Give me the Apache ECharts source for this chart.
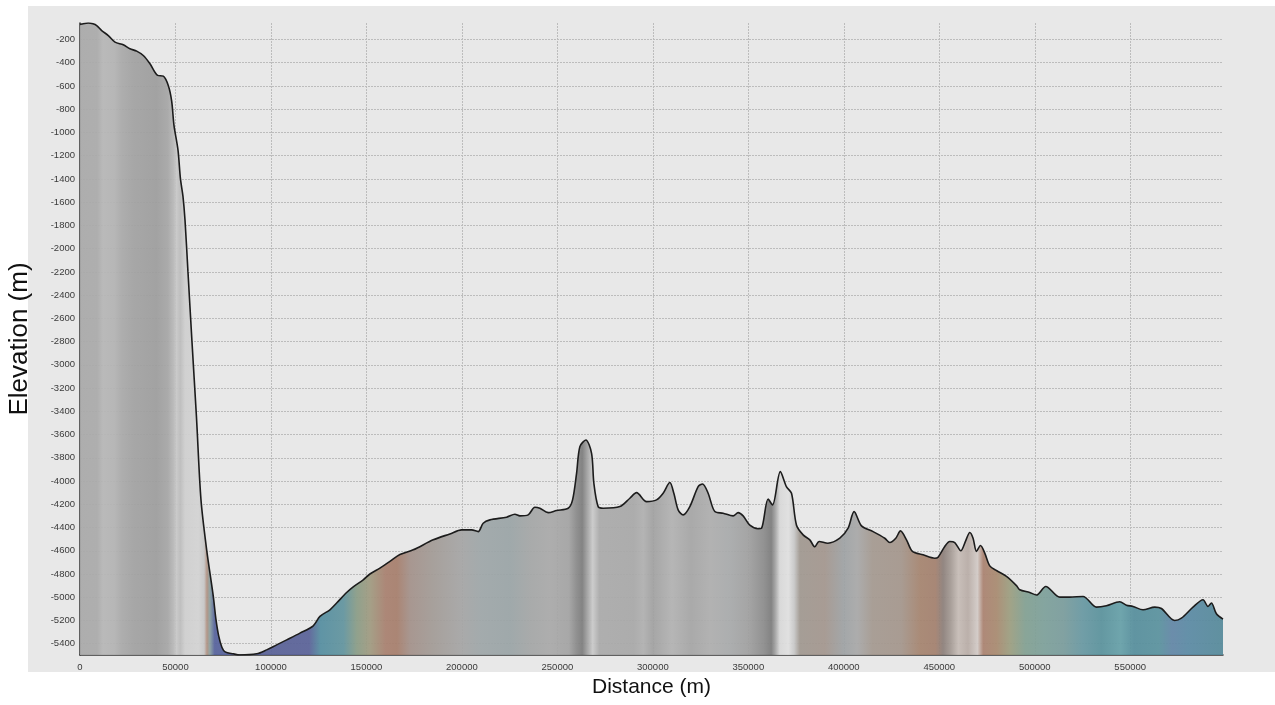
<!DOCTYPE html>
<html>
<head>
<meta charset="utf-8">
<script src="https://cdn.jsdelivr.net/npm/echarts@6/dist/echarts.min.js"></script>
<style>
html,body{margin:0;padding:0;background:#fff;}
#chart{width:1275px;height:705px;}
</style>
</head>
<body>
<div id="chart"></div>
<script>
// Distance along profile (m)
const distance = [0, 890, 4345, 6800, 8743, 11361, 14817, 18325, 22670, 26178, 29686, 33141, 36649, 40680, 43612, 46230, 48010, 49215, 51310, 52617, 53926, 54974, 56544, 58639, 60995, 63351, 66335, 69790, 71200, 72600, 74300, 76000, 80262, 83770, 92512, 97748, 102980, 108220, 115183, 122147, 125654, 130890, 134398, 139633, 143088, 148324, 151832, 157068, 162304, 167539, 174503, 184970, 193717, 199843, 205078, 208534, 211152, 214660, 223403, 227749, 230366, 234712, 238220, 240838, 245183, 249581, 255654, 257958, 260052, 261780, 264921, 267906, 269110, 271361, 273979, 282722, 287958, 291466, 296701, 301937, 305392, 308900, 310994, 313246, 315864, 319372, 323717, 326021, 328953, 332461, 336806, 342042, 344660, 347278, 350785, 355131, 356911, 360367, 362670, 366754, 369999, 372617, 375235, 378690, 382198, 384816, 387067, 391622, 397906, 402251, 405393, 409267, 415340, 421466, 424084, 427225, 429686, 432827, 435969, 441518, 447644, 449372, 452879, 455497, 458115, 461256, 463874, 465968, 467696, 469476, 471570, 473822, 476440, 479947, 485183, 490419, 492146, 497382, 500890, 505759, 513089, 518324, 525288, 532304, 537540, 544502, 548011, 551466, 556702, 562827, 566335, 573298, 576806, 582879, 588115, 590733, 592513, 595131, 598586];
// Elevation (m)
const elevation = [-70, -66, -58, -65, -80, -123, -166, -223, -246, -280, -300, -338, -409, -509, -515, -595, -730, -939, -1150, -1400, -1550, -1750, -2200, -2800, -3450, -4160, -4592, -4990, -5190, -5330, -5430, -5470, -5487, -5497, -5487, -5453, -5410, -5367, -5309, -5246, -5165, -5108, -5050, -4959, -4910, -4850, -4800, -4749, -4692, -4632, -4592, -4506, -4455, -4420, -4420, -4435, -4363, -4334, -4311, -4286, -4300, -4291, -4225, -4234, -4272, -4254, -4234, -4162, -3933, -3704, -3647, -3761, -4019, -4220, -4234, -4220, -4148, -4100, -4177, -4162, -4105, -4013, -4105, -4248, -4291, -4220, -4048, -4025, -4105, -4263, -4277, -4300, -4272, -4300, -4380, -4410, -4406, -4155, -4205, -3919, -4050, -4105, -4380, -4463, -4506, -4566, -4520, -4535, -4492, -4406, -4263, -4386, -4435, -4492, -4529, -4492, -4429, -4506, -4606, -4635, -4664, -4655, -4563, -4520, -4529, -4600, -4512, -4443, -4492, -4606, -4555, -4620, -4730, -4770, -4821, -4900, -4936, -4959, -4981, -4907, -4999, -4999, -4993, -5085, -5073, -5039, -5068, -5079, -5108, -5085, -5097, -5200, -5180, -5085, -5022, -5079, -5050, -5142, -5188];

// Fill colour bands along the distance axis (style)
const fillStops = [
  [0, '#a9a9a9'], [9000, '#aaaaaa'], [12000, '#b6b6b6'], [18000, '#b3b3b3'], [22000, '#a9a9a9'],
  [28000, '#a2a2a2'], [40000, '#9d9d9d'], [46000, '#a6a6a6'], [49000, '#b8b8b8'], [50500, '#c8c8c8'],
  [52500, '#bcbcbc'], [55000, '#cfcfcf'], [62000, '#d3d3d3'], [65000, '#c6c6c6'], [66500, '#b09080'],
  [68000, '#8aa0a0'], [70500, '#56629c'], [95000, '#596196'], [120000, '#5a6298'], [126000, '#558ea0'],
  [138000, '#62949e'], [145000, '#8a9c86'], [152000, '#a09a80'], [160000, '#a8806f'], [166000, '#a67e6c'],
  [173000, '#a3918a'], [185000, '#a29b96'], [200000, '#a5a5a5'], [210000, '#9ea6a8'], [225000, '#9aa4a6'],
  [236000, '#a4a6a6'], [246000, '#a9a9a9'], [256000, '#a3a3a3'], [260000, '#8a8a8a'], [263000, '#7c7c7c'],
  [266000, '#a6a6a6'], [268500, '#cacaca'], [272000, '#aaaaaa'], [290000, '#a8a8a8'], [295000, '#b0b0b0'],
  [300000, '#a1a1a1'], [310000, '#b2b2b2'], [320000, '#a5a5a5'], [330000, '#aeaeae'], [340000, '#a8aaab'],
  [350000, '#a0a0a0'], [358000, '#8c8c8c'], [362000, '#7c7c7c'], [364000, '#a0a0a0'], [366500, '#d8d8d8'],
  [371000, '#e0e0e0'], [374000, '#c8c8c8'], [377000, '#a09890'], [390000, '#a3968e'], [400000, '#9ea2a4'],
  [407000, '#a8a8a8'], [415000, '#a49990'], [430000, '#a4968c'], [440000, '#a5846f'], [448000, '#a3806e'],
  [452000, '#8c7f7a'], [456000, '#a49a94'], [460000, '#c6bcb6'], [465000, '#b8aca6'], [470000, '#d2cac6'],
  [473000, '#aa8270'], [480000, '#a88a70'], [487000, '#9c9e80'], [495000, '#82a092'], [505000, '#7da09a'],
  [515000, '#7a9c9c'], [525000, '#6898a2'], [535000, '#5a929c'], [545000, '#66a0a8'], [552000, '#568e9c'],
  [565000, '#5a929e'], [572000, '#6286a6'], [580000, '#5b8aa4'], [598586, '#568a9a']
];

const chart = echarts.init(document.getElementById('chart'), null, {renderer: 'canvas'});
const xMax = distance[distance.length - 1];
const yMin = Math.min.apply(null, elevation);
const yMax = Math.max.apply(null, elevation);
const pts = distance.map((d, i) => [d, elevation[i]]);
const grad = new echarts.graphic.LinearGradient(0, 0, 1, 0,
  fillStops.map(s => ({offset: s[0] / xMax, color: s[1]})));

const labelFont = {fontFamily: 'Liberation Sans', fontSize: 9.5, color: '#3a3a3a', formatter: v => String(v)};
const gridLine = {color: '#bcbcbc', type: [2, 1], width: 1};

chart.setOption({
  backgroundColor: '#ffffff',
  animation: false,
  graphic: [{
    type: 'rect', z: -10, silent: true,
    shape: {x: 28, y: 6, width: 1247, height: 666},
    style: {fill: '#e8e8e8'}
  }],
  grid: {left: 80, right: 52, top: 23, bottom: 50, containLabel: false, outerBoundsMode: 'none'},
  xAxis: {
    type: 'value', min: 0, max: xMax, interval: 50000,
    name: 'Distance (m)', nameLocation: 'middle', nameGap: 22,
    nameTextStyle: {fontFamily: 'Liberation Sans', fontSize: 21, color: '#111'},
    axisLine: {show: true, onZero: false, lineStyle: {color: '#333', width: 1.5}},
    axisTick: {show: false},
    axisLabel: Object.assign({margin: 7, showMaxLabel: false}, labelFont),
    splitLine: {show: true, showMaxLine: false, lineStyle: gridLine}
  },
  yAxis: {
    type: 'value', min: yMin, max: yMax, minInterval: 200, maxInterval: 200, splitNumber: 27,
    name: 'Elevation (m)', nameLocation: 'middle', nameGap: 47, nameRotate: 90,
    nameTextStyle: {fontFamily: 'Liberation Sans', fontSize: 26, color: '#111'},
    axisLine: {show: true, lineStyle: {color: '#333', width: 1.5}},
    axisTick: {show: false},
    axisLabel: Object.assign({margin: 5, showMinLabel: false, showMaxLabel: false}, labelFont),
    splitLine: {show: true, showMinLine: false, showMaxLine: false, lineStyle: gridLine}
  },
  series: [{
    type: 'line',
    data: pts,
    showSymbol: false,
    smooth: 0.3,
    lineStyle: {color: '#1c1c1c', width: 1.6},
    areaStyle: {color: grad, opacity: 0.93, origin: 'start'}
  }]
});
</script>
</body>
</html>
